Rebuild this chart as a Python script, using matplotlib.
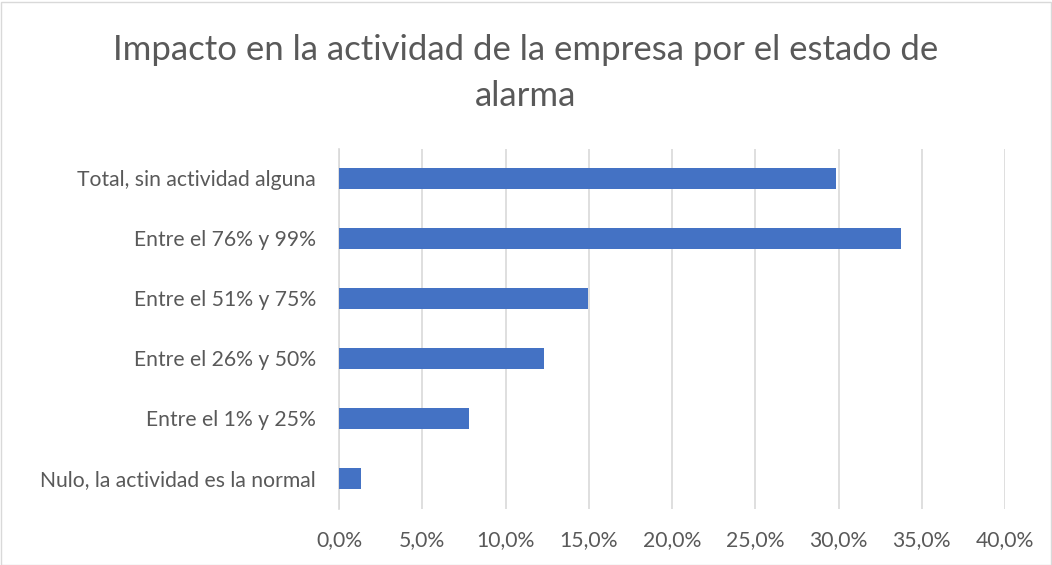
import matplotlib
matplotlib.use("Agg")
import matplotlib.pyplot as plt
from matplotlib.ticker import FuncFormatter, MultipleLocator
from matplotlib.patches import Rectangle

categories = ["Total, sin actividad alguna", "Entre el 76% y 99%", "Entre el 51% y 75%",
              "Entre el 26% y 50%", "Entre el 1% y 25%", "Nulo, la actividad es la normal"]
values = [29.86, 33.76, 14.94, 12.33, 7.78, 1.30]
title = "Impacto en la actividad de la empresa por el estado de\nalarma"

plt.rcParams['font.family'] = ['Lato', 'DejaVu Sans']
W, H = 1052, 565
fig = plt.figure(figsize=(W/100, H/100), dpi=100)
fig.patches.append(Rectangle((0.5/W, 0.5/H), 1 - 2/W, 1 - 2/H, transform=fig.transFigure,
                             fill=False, edgecolor='#d9d9d9', linewidth=1))
ax = fig.add_axes([339/W, (H-508.5)/H, (1005-339)/W, (508.5-148.5)/H])

y = list(range(len(categories)))[::-1]
ax.barh(y, values, height=0.355, color='#4472C4', zorder=3)
ax.set_yticks(y)
ax.set_yticklabels(categories, fontsize=15.2, color='#595959')
ax.set_ylim(-0.5, len(categories) - 0.5)
ax.set_xlim(0, 40)
ax.xaxis.set_major_locator(MultipleLocator(5))
ax.xaxis.set_major_formatter(FuncFormatter(lambda v, p: f"{v:.1f}".replace('.', ',') + "%"))
ax.tick_params(axis='x', labelsize=15.2, colors='#595959', length=0, pad=15.5)
ax.tick_params(axis='y', length=0, pad=16.5)
ax.grid(axis='x', color='#d9d9d9', linewidth=1.2, zorder=0)
for s in ['top', 'right', 'bottom']:
    ax.spines[s].set_visible(False)
ax.spines['left'].set_color('#d9d9d9')
ax.spines['left'].set_linewidth(1.2)

fig.text(0.5, (H-73)/H, title, ha='center', va='center', fontsize=25, color='#595959',
         linespacing=1.5)
fig.savefig("out.png", dpi=100)
